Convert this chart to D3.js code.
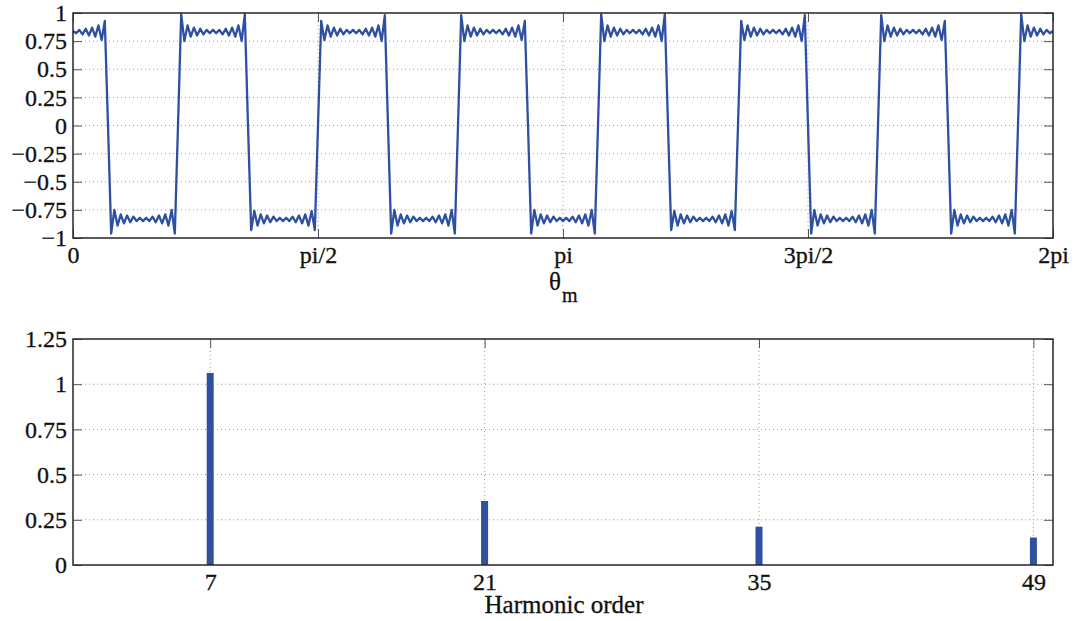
<!DOCTYPE html>
<html>
<head>
<meta charset="utf-8">
<script src="https://cdn.jsdelivr.net/npm/d3@7"></script>
<style>
  html, body { margin: 0; padding: 0; background: #fff; }
  svg { display: block; }
  text { font-family: "Liberation Serif", Tinos, "Times New Roman", serif; fill: #111; }
</style>
</head>
<body>
<svg id="chart" width="1075" height="621"></svg>
<script>
// ---------------- DATA ----------------
// Top panel: waveform samples, evenly spaced over [0, 2pi]
const waveSamples = [
  0.84,0.82,0.85,0.81,0.86,0.80,0.87,0.79,0.89,0.76,0.93,0,
  -0.96,-0.75,-0.89,-0.79,-0.87,-0.80,-0.86,-0.81,-0.85,-0.82,-0.85,-0.82,-0.85,-0.81,-0.86,-0.80,-0.87,-0.79,-0.89,-0.75,-0.96,0,
  0.99,0.75,0.89,0.79,0.87,0.80,0.86,0.81,0.85,0.82,
  0.85,0.82,0.85,0.81,0.86,0.80,0.87,0.79,0.89,0.75,0.99,0,
  -0.93,-0.76,-0.89,-0.79,-0.87,-0.80,-0.86,-0.81,-0.85,-0.82,-0.85,-0.82,-0.85,-0.81,-0.86,-0.80,-0.87,-0.79,-0.89,-0.76,-0.93,0,
  0.93,0.76,0.89,0.79,0.87,0.80,0.86,0.81,0.85,0.82,
  0.85,0.82,0.85,0.81,0.86,0.80,0.87,0.79,0.89,0.75,0.98,0,
  -0.96,-0.75,-0.89,-0.79,-0.87,-0.80,-0.86,-0.81,-0.85,-0.82,-0.85,-0.82,-0.85,-0.81,-0.86,-0.80,-0.87,-0.79,-0.89,-0.75,-0.96,0,
  0.98,0.75,0.89,0.79,0.87,0.80,0.86,0.81,0.85,0.82,
  0.85,0.82,0.85,0.81,0.86,0.80,0.87,0.79,0.89,0.76,0.93,0,
  -0.96,-0.75,-0.89,-0.79,-0.87,-0.80,-0.86,-0.81,-0.85,-0.82,-0.85,-0.82,-0.85,-0.81,-0.86,-0.80,-0.87,-0.79,-0.89,-0.75,-0.96,0,
  0.99,0.75,0.89,0.79,0.87,0.80,0.86,0.81,0.85,0.82,
  0.85,0.82,0.85,0.81,0.86,0.80,0.87,0.79,0.89,0.75,0.99,0,
  -0.93,-0.76,-0.89,-0.79,-0.87,-0.80,-0.86,-0.81,-0.85,-0.82,-0.85,-0.82,-0.85,-0.81,-0.86,-0.80,-0.87,-0.79,-0.89,-0.76,-0.93,0,
  0.93,0.76,0.89,0.79,0.87,0.80,0.86,0.81,0.85,0.82,
  0.85,0.82,0.85,0.81,0.86,0.80,0.87,0.79,0.89,0.75,0.98,0,
  -0.96,-0.75,-0.89,-0.79,-0.87,-0.80,-0.86,-0.81,-0.85,-0.82,-0.85,-0.82,-0.85,-0.81,-0.86,-0.80,-0.87,-0.79,-0.89,-0.75,-0.96,0,
  0.98,0.75,0.89,0.79,0.87,0.80,0.86,0.81,0.85,0.82,
  0.85,0.82,0.85,0.81,0.86,0.80,0.87,0.79,0.89,0.76,0.93,0,
  -0.96,-0.75,-0.89,-0.79,-0.87,-0.80,-0.86,-0.81,-0.85,-0.82,-0.85,-0.82,-0.85,-0.81,-0.86,-0.80,-0.87,-0.79,-0.89,-0.75,-0.96,0,
  0.99,0.75,0.89,0.79,0.87,0.80,0.86,0.81,0.85,0.82,
  0.84
];
const thetaTicks = [0, Math.PI / 2, Math.PI, 3 * Math.PI / 2, 2 * Math.PI];
const thetaTickLabels = ["0", "pi/2", "pi", "3pi/2", "2pi"];
const topYTicks = [-1, -0.75, -0.5, -0.25, 0, 0.25, 0.5, 0.75, 1];

// Bottom panel: harmonic spectrum
const harmonicOrders = [7, 21, 35, 49];
const harmonicAmplitudes = [1.062, 0.354, 0.212, 0.152];
const bottomYTicks = [0, 0.25, 0.5, 0.75, 1, 1.25];

// ---------------- DRAW ----------------
const svg = d3.select("#chart");
const blue = "#2e50a2";
const axisColor = "#262626";
const gridColor = "#9a9a9a";
const FONT = '"Liberation Serif", Tinos, "Times New Roman", serif';
const fmt = v => (v < 0 ? "\u2212" : "") + String(Math.abs(v));

const L = 73, R = 1053;
const topP = { t: 13, b: 238 };
const botP = { t: 339, b: 565 };

function styleText(sel, size) {
  sel.attr("font-size", size).attr("fill", "#111")
    .attr("stroke", "#111").attr("stroke-width", 0.3)
    .style("font-family", FONT);
}

function grid(g, xs, ys, xScale, yScale, y0, y1) {
  g.selectAll(".gy").data(ys).enter().append("line")
    .attr("x1", L).attr("x2", R)
    .attr("y1", d => yScale(d)).attr("y2", d => yScale(d))
    .attr("stroke", gridColor).attr("stroke-width", 1).attr("stroke-dasharray", "1,3");
  g.selectAll(".gx").data(xs).enter().append("line")
    .attr("x1", d => xScale(d)).attr("x2", d => xScale(d))
    .attr("y1", y0).attr("y2", y1)
    .attr("stroke", gridColor).attr("stroke-width", 1).attr("stroke-dasharray", "1,3");
}

function axes(g, xScale, yScale, xTicks, xFmt, yTicks, y0, y1) {
  const ax = g.append("g").attr("transform", `translate(0,${y1})`)
    .call(d3.axisBottom(xScale).tickValues(xTicks).tickFormat(xFmt).tickSizeInner(-9).tickSizeOuter(0).tickPadding(8));
  const axT = g.append("g").attr("transform", `translate(0,${y0})`)
    .call(d3.axisTop(xScale).tickValues(xTicks).tickFormat("").tickSizeInner(-9).tickSizeOuter(0));
  const ay = g.append("g").attr("transform", `translate(${L},0)`)
    .call(d3.axisLeft(yScale).tickValues(yTicks).tickFormat(fmt).tickSizeInner(-9).tickSizeOuter(0).tickPadding(6));
  const ayR = g.append("g").attr("transform", `translate(${R},0)`)
    .call(d3.axisRight(yScale).tickValues(yTicks).tickFormat("").tickSizeInner(-9).tickSizeOuter(0));
  [ax, axT, ay, ayR].forEach(a => {
    a.attr("font-family", FONT);
    a.select(".domain").remove();
    a.selectAll(".tick line").attr("stroke", "#555").attr("stroke-width", 1);
    styleText(a.selectAll("text"), 24);
  });
  g.append("rect").attr("x", L).attr("y", y0).attr("width", R - L).attr("height", y1 - y0)
    .attr("fill", "none").attr("stroke", axisColor).attr("stroke-width", 1.5);
}

// ---- Top panel ----
const gTop = svg.append("g");
const xTop = d3.scaleLinear().domain([0, 2 * Math.PI]).range([L, R]);
const yTop = d3.scaleLinear().domain([-1, 1]).range([topP.b, topP.t]);
grid(gTop, thetaTicks.slice(1, -1), topYTicks.slice(1, -1), xTop, yTop, topP.t, topP.b);
const step = 2 * Math.PI / (waveSamples.length - 1);
const line = d3.line().x((d, i) => xTop(i * step)).y(d => yTop(d));
gTop.append("path").datum(waveSamples).attr("d", line)
  .attr("fill", "none").attr("stroke", blue).attr("stroke-width", 2.3).attr("stroke-linejoin", "round");
axes(gTop, xTop, yTop, thetaTicks, (d, i) => thetaTickLabels[i], topYTicks, topP.t, topP.b);
styleText(gTop.append("text").attr("x", 549).attr("y", 290).text("θ"), 25);
styleText(gTop.append("text").attr("x", 562).attr("y", 302).text("m"), 20);

// ---- Bottom panel ----
const gBot = svg.append("g");
const xBot = d3.scaleLinear().domain([0, 50]).range([L, R]);
const yBot = d3.scaleLinear().domain([0, 1.25]).range([botP.b, botP.t]);
grid(gBot, harmonicOrders, bottomYTicks.slice(1, -1), xBot, yBot, botP.t, botP.b);
gBot.selectAll(".bar").data(harmonicOrders).enter().append("rect")
  .attr("x", d => xBot(d) - 3.5).attr("width", 7)
  .attr("y", (d, i) => yBot(harmonicAmplitudes[i]))
  .attr("height", (d, i) => yBot(0) - yBot(harmonicAmplitudes[i]))
  .attr("fill", blue);
axes(gBot, xBot, yBot, harmonicOrders, d => String(d), bottomYTicks, botP.t, botP.b);
styleText(gBot.append("text").attr("x", 564).attr("y", 613)
  .attr("text-anchor", "middle").text("Harmonic order"), 25);
</script>
</body>
</html>
